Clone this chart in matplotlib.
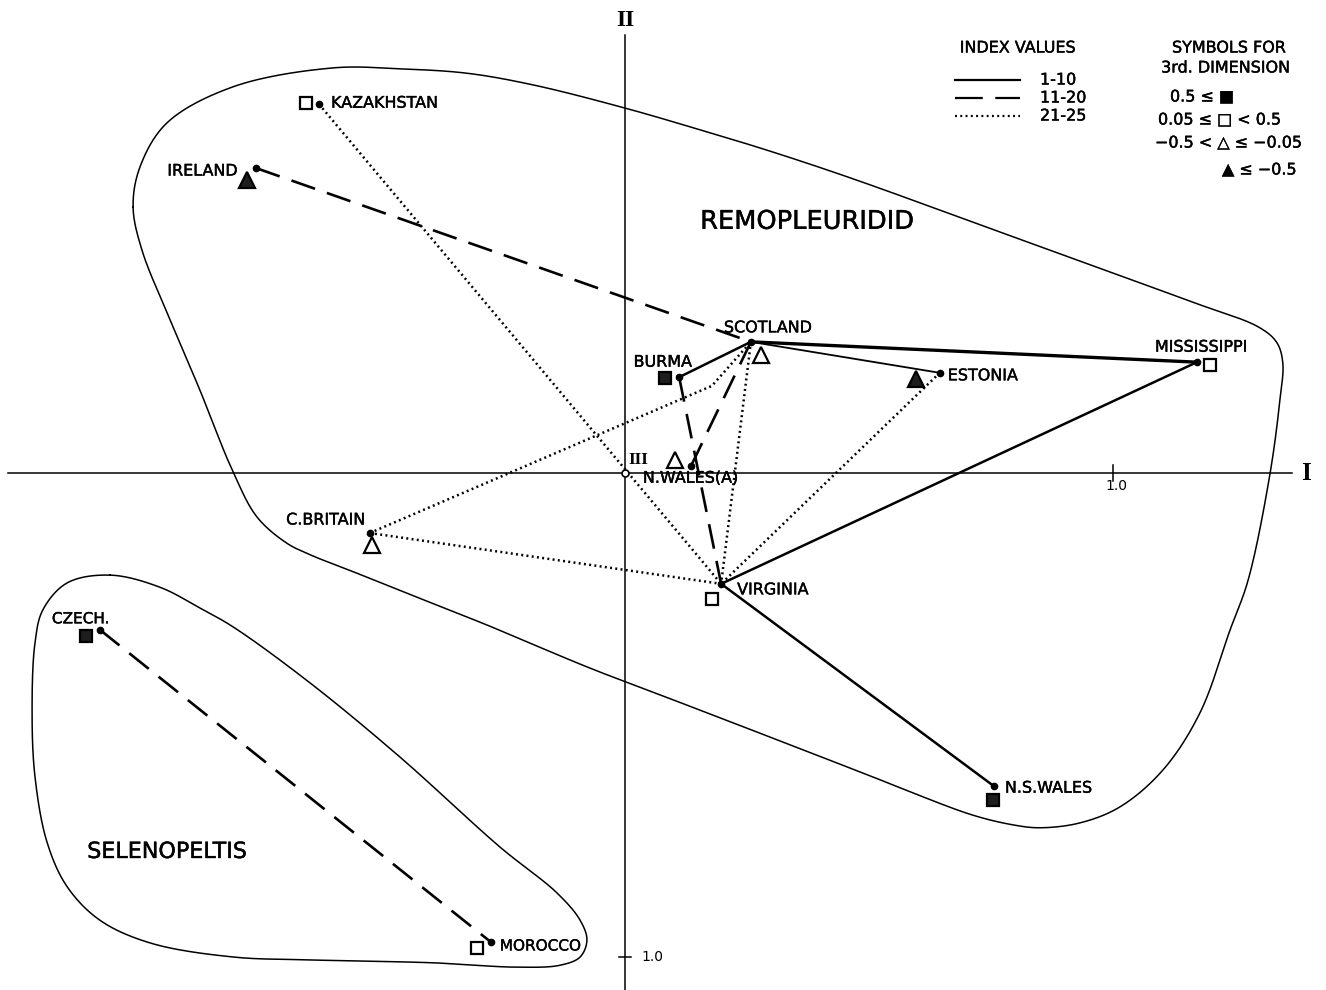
import numpy as np
import matplotlib.pyplot as plt
import matplotlib.patheffects as pe
from matplotlib.lines import Line2D

plt.rcParams['font.family'] = ['DejaVu Sans']
plt.rcParams['lines.scale_dashes'] = False

# Scores on ordination axes I and II (axis II grows downwards)
names = ['KAZAKHSTAN', 'IRELAND', 'SCOTLAND', 'BURMA', 'MISSISSIPPI', 'ESTONIA',
         'N.WALES(A)', 'C.BRITAIN', 'VIRGINIA', 'N.S.WALES', 'CZECH.', 'MOROCCO']
axis1 = [-0.627, -0.756, 0.258, 0.111, 1.172, 0.645, 0.135, -0.523, 0.197, 0.756, -1.076, -0.275]
axis2 = [-0.762, -0.630, -0.271, -0.198, -0.229, -0.207, -0.014, 0.124, 0.229, 0.647, 0.324, 0.969]
# class of the 3rd dimension score: 'hi' 0.5<=, 'mid' 0.05..0.5, 'low' -0.5..-0.05, 'vlow' <=-0.5
dim3 = ['mid', 'vlow', 'low', 'hi', 'mid', 'vlow', 'low', 'low', 'mid', 'hi', 'hi', 'mid']

# similarity links between localities
links_1_10 = [('SCOTLAND', 'MISSISSIPPI'), ('SCOTLAND', 'ESTONIA'), ('SCOTLAND', 'BURMA'),
              ('MISSISSIPPI', 'VIRGINIA'), ('VIRGINIA', 'N.S.WALES')]
links_11_20 = [('IRELAND', 'SCOTLAND'), ('SCOTLAND', 'N.WALES(A)'), ('BURMA', 'VIRGINIA'),
               ('CZECH.', 'MOROCCO')]
links_21_25 = [('KAZAKHSTAN', 'VIRGINIA'), ('C.BRITAIN', 'VIRGINIA'), ('SCOTLAND', 'VIRGINIA'),
               ('ESTONIA', 'VIRGINIA')]
# C.BRITAIN - SCOTLAND link is drawn with a bend around BURMA
bent_link = ('C.BRITAIN', (0.178, -0.180), 'SCOTLAND')

# outlines of the two groups
remo_x = [-1.008, -0.994, -0.939, -0.803, -0.598, -0.461, -0.324, -0.189, 0.000, 0.154, 0.291,
          0.461, 0.768, 1.152, 1.301, 1.336, 1.348, 1.342, 1.322, 1.277, 1.240, 1.178, 1.102,
          1.014, 0.932, 0.850, 0.795, 0.713, 0.590, 0.523, 0.154, -0.072, -0.283, -0.393, -0.529,
          -0.645, -0.693, -0.754, -0.803, -0.871, -0.932, -0.990]
remo_y = [-0.550, -0.632, -0.723, -0.798, -0.837, -0.835, -0.826, -0.802, -0.754, -0.709, -0.667,
          -0.610, -0.498, -0.357, -0.300, -0.269, -0.227, -0.151, 0.000, 0.221, 0.324, 0.496,
          0.614, 0.690, 0.723, 0.733, 0.727, 0.707, 0.661, 0.634, 0.490, 0.403, 0.314, 0.270, 0.215,
          0.169, 0.145, 0.091, -0.002, -0.171, -0.316, -0.461]
sele_x = [-1.055, -0.953, -0.871, -0.803, -0.645, -0.461, -0.256, -0.139, -0.092, -0.078, -0.092,
          -0.133, -0.221, -0.393, -0.645, -0.803, -0.973, -1.076, -1.143, -1.184, -1.209, -1.215,
          -1.209, -1.193, -1.143]
sele_y = [0.211, 0.236, 0.279, 0.318, 0.434, 0.587, 0.773, 0.868, 0.924, 0.965, 1.000, 1.017,
          1.021, 1.012, 1.006, 1.000, 0.971, 0.924, 0.855, 0.764, 0.628, 0.490, 0.351, 0.283,
          0.227]


def smooth_closed(xs, ys, n=30, alpha=0.5):
    # closed centripetal Catmull-Rom curve through the outline points
    P = np.column_stack([xs, ys])
    N = len(P)
    out = []
    for i in range(N):
        p0, p1, p2, p3 = P[i - 1], P[i], P[(i + 1) % N], P[(i + 2) % N]
        t0 = 0.0
        t1 = t0 + np.linalg.norm(p1 - p0) ** alpha
        t2 = t1 + np.linalg.norm(p2 - p1) ** alpha
        t3 = t2 + np.linalg.norm(p3 - p2) ** alpha
        t = np.linspace(t1, t2, n, endpoint=False)[:, None]
        a1 = (t1 - t) / (t1 - t0) * p0 + (t - t0) / (t1 - t0) * p1
        a2 = (t2 - t) / (t2 - t1) * p1 + (t - t1) / (t2 - t1) * p2
        a3 = (t3 - t) / (t3 - t2) * p2 + (t - t2) / (t3 - t2) * p3
        b1 = (t2 - t) / (t2 - t0) * a1 + (t - t0) / (t2 - t0) * a2
        b2 = (t3 - t) / (t3 - t1) * a2 + (t - t1) / (t3 - t1) * a3
        out.append((t2 - t) / (t2 - t1) * b1 + (t - t1) / (t2 - t1) * b2)
    out = np.vstack(out)
    return np.vstack([out, out[:1]])


W, H = 1326, 990
fig = plt.figure(figsize=(W / 100, H / 100), dpi=100)
ax = fig.add_axes([0, 0, 1, 1])
ax.set_xlim(-625 / 488, (W - 625) / 488)
ax.set_ylim((H - 473) / 484, -473 / 484)
ax.axis('off')

pos = {n: (x, y) for n, x, y in zip(names, axis1, axis2)}
heavy = [pe.withStroke(linewidth=0.3, foreground='k')]

# axes I and II
ax.plot([-1.264, 1.367], [0, 0], color='k', lw=1.1)
ax.plot([0, 0], [-0.905, 1.08], color='k', lw=1.1)
ax.plot([1.0, 1.0], [-0.016, 0.016], color='k', lw=1.1)
ax.plot([-0.013, 0.013], [1.0, 1.0], color='k', lw=1.1)
ax.text(1.008, 0.012, '1.0', fontsize=10, ha='center', va='top')
ax.text(0.033, 1.0, '1.0', fontsize=10, ha='left', va='center')
ax.text(1.385, 0.0, 'I', fontsize=18, ha='left', va='center', family='Liberation Serif',
        fontweight='bold')
ax.text(0.0, -0.935, 'II', fontsize=17, ha='center', va='center', family='Liberation Serif',
        fontweight='bold')
ax.text(0.008, -0.01, 'III', fontsize=12.5, ha='left', va='bottom', family='Liberation Serif',
        fontweight='bold')
ax.plot([0], [0], 'o', ms=5, mfc='white', mec='k', mew=1.2, zorder=5)

# group outlines
for xs, ys in [(remo_x, remo_y), (sele_x, sele_y)]:
    c = smooth_closed(xs, ys)
    ax.plot(c[:, 0], c[:, 1], color='k', lw=1.1)

ax.text(0.154, -0.519, 'REMOPLEURIDID', fontsize=18.5, ha='left', va='center',
        path_effects=heavy)
ax.text(-1.102, 0.783, 'SELENOPELTIS', fontsize=16, ha='left', va='center',
        path_effects=heavy)

dash_style = (0, (18, 9))
dot_style = (0, (1.4, 2.4))

# links
for a, b in links_1_10:
    lw = 1.8
    if (a, b) == ('SCOTLAND', 'MISSISSIPPI'):
        lw = 2.4
    elif (a, b) == ('SCOTLAND', 'ESTONIA'):
        lw = 1.3
    ax.plot([pos[a][0], pos[b][0]], [pos[a][1], pos[b][1]], color='k', lw=lw,
            solid_capstyle='round')
for a, b in links_11_20:
    ax.plot([pos[a][0], pos[b][0]], [pos[a][1], pos[b][1]], color='k', lw=1.9,
            linestyle=dash_style)
for a, b in links_21_25:
    ax.plot([pos[a][0], pos[b][0]], [pos[a][1], pos[b][1]], color='k', lw=1.8,
            linestyle=dot_style)
a, via, b = bent_link
ax.plot([pos[a][0], via[0], pos[b][0]], [pos[a][1], via[1], pos[b][1]], color='k', lw=1.8,
        linestyle=dot_style)

# locality dots
ax.plot(axis1, axis2, 'o', ms=4.5, color='k', zorder=6)

# third-dimension symbols, offset from each dot (pixels, y down)
sym_off = {'KAZAKHSTAN': (-13, -1), 'IRELAND': (-9, 12), 'SCOTLAND': (10, 13),
           'BURMA': (-14, 1), 'MISSISSIPPI': (13, 3), 'ESTONIA': (-24, 6),
           'N.WALES(A)': (-16, -6), 'C.BRITAIN': (2, 12), 'VIRGINIA': (-9, 15),
           'N.S.WALES': (-1, 14), 'CZECH.': (-14, 6), 'MOROCCO': (-14, 6)}
sym_style = {'hi': dict(marker='s', ms=9, mfc='#1e1e1e', mec='k'),
             'mid': dict(marker='s', ms=9, mfc='white', mec='k'),
             'low': dict(marker='^', ms=11, mfc='white', mec='k'),
             'vlow': dict(marker='^', ms=11, mfc='#1e1e1e', mec='k')}
for n, cls in zip(names, dim3):
    dx, dy = sym_off[n]
    x = pos[n][0] + dx / 488
    y = pos[n][1] + dy / 484
    ax.plot([x], [y], linestyle='none', mew=1.6, zorder=7, **sym_style[cls])

# locality labels, offset from each dot (pixels, y down)
lab_off = {'KAZAKHSTAN': (12, -1, 'left'), 'IRELAND': (-18, 3, 'right'),
           'SCOTLAND': (-27, -14, 'left'), 'BURMA': (13, -15, 'right'),
           'MISSISSIPPI': (-42, -15, 'left'), 'ESTONIA': (8, 3, 'left'),
           'N.WALES(A)': (-48, 12, 'left'), 'C.BRITAIN': (-4, -13, 'right'),
           'VIRGINIA': (16, 6, 'left'), 'N.S.WALES': (11, 2, 'left'),
           'CZECH.': (-48, -11, 'left'), 'MOROCCO': (9, 4, 'left')}
for n in names:
    dx, dy, ha = lab_off[n]
    fs = 11 if n in ('CZECH.', 'MOROCCO') else 11.5
    ax.annotate(n, pos[n], xytext=(dx, -dy), textcoords='offset pixels', ha=ha,
                va='center', fontsize=fs, path_effects=heavy)


# legend, placed in figure pixels
def fxy(px, py):
    return px / W, 1 - py / H


ftxt = dict(transform=fig.transFigure, fontsize=11.5, va='center', path_effects=heavy)
fig.text(*fxy(1018, 48), 'INDEX VALUES', ha='center', **ftxt)
legend_rows = [('1-10', '-'), ('11-20', (0, (20, 9))), ('21-25', dot_style)]
for i, (lab, ls) in enumerate(legend_rows):
    py = 80 + 18 * i
    (x0, y0), (x1, _y) = fxy(955, py), fxy(1020, py)
    fig.add_artist(Line2D([x0, x1], [y0, y0], transform=fig.transFigure, color='k',
                          lw=1.6, linestyle=ls))
    fig.text(*fxy(1040, py), lab, ha='left', **ftxt)

fig.text(*fxy(1229, 48), 'SYMBOLS FOR', ha='center', **ftxt)
fig.text(*fxy(1226, 68), '3rd. DIMENSION', ha='center', **ftxt)
fig.text(*fxy(1170, 97), '0.5 ≤ ■', ha='left', **ftxt)
fig.text(*fxy(1158, 120), '0.05 ≤ □ < 0.5', ha='left', **ftxt)
fig.text(*fxy(1155, 143), '−0.5 < △ ≤ −0.05', ha='left', **ftxt)
fig.text(*fxy(1222, 170), '▲ ≤ −0.5', ha='left', **ftxt)

fig.savefig('out.png', dpi=100, facecolor='white')
